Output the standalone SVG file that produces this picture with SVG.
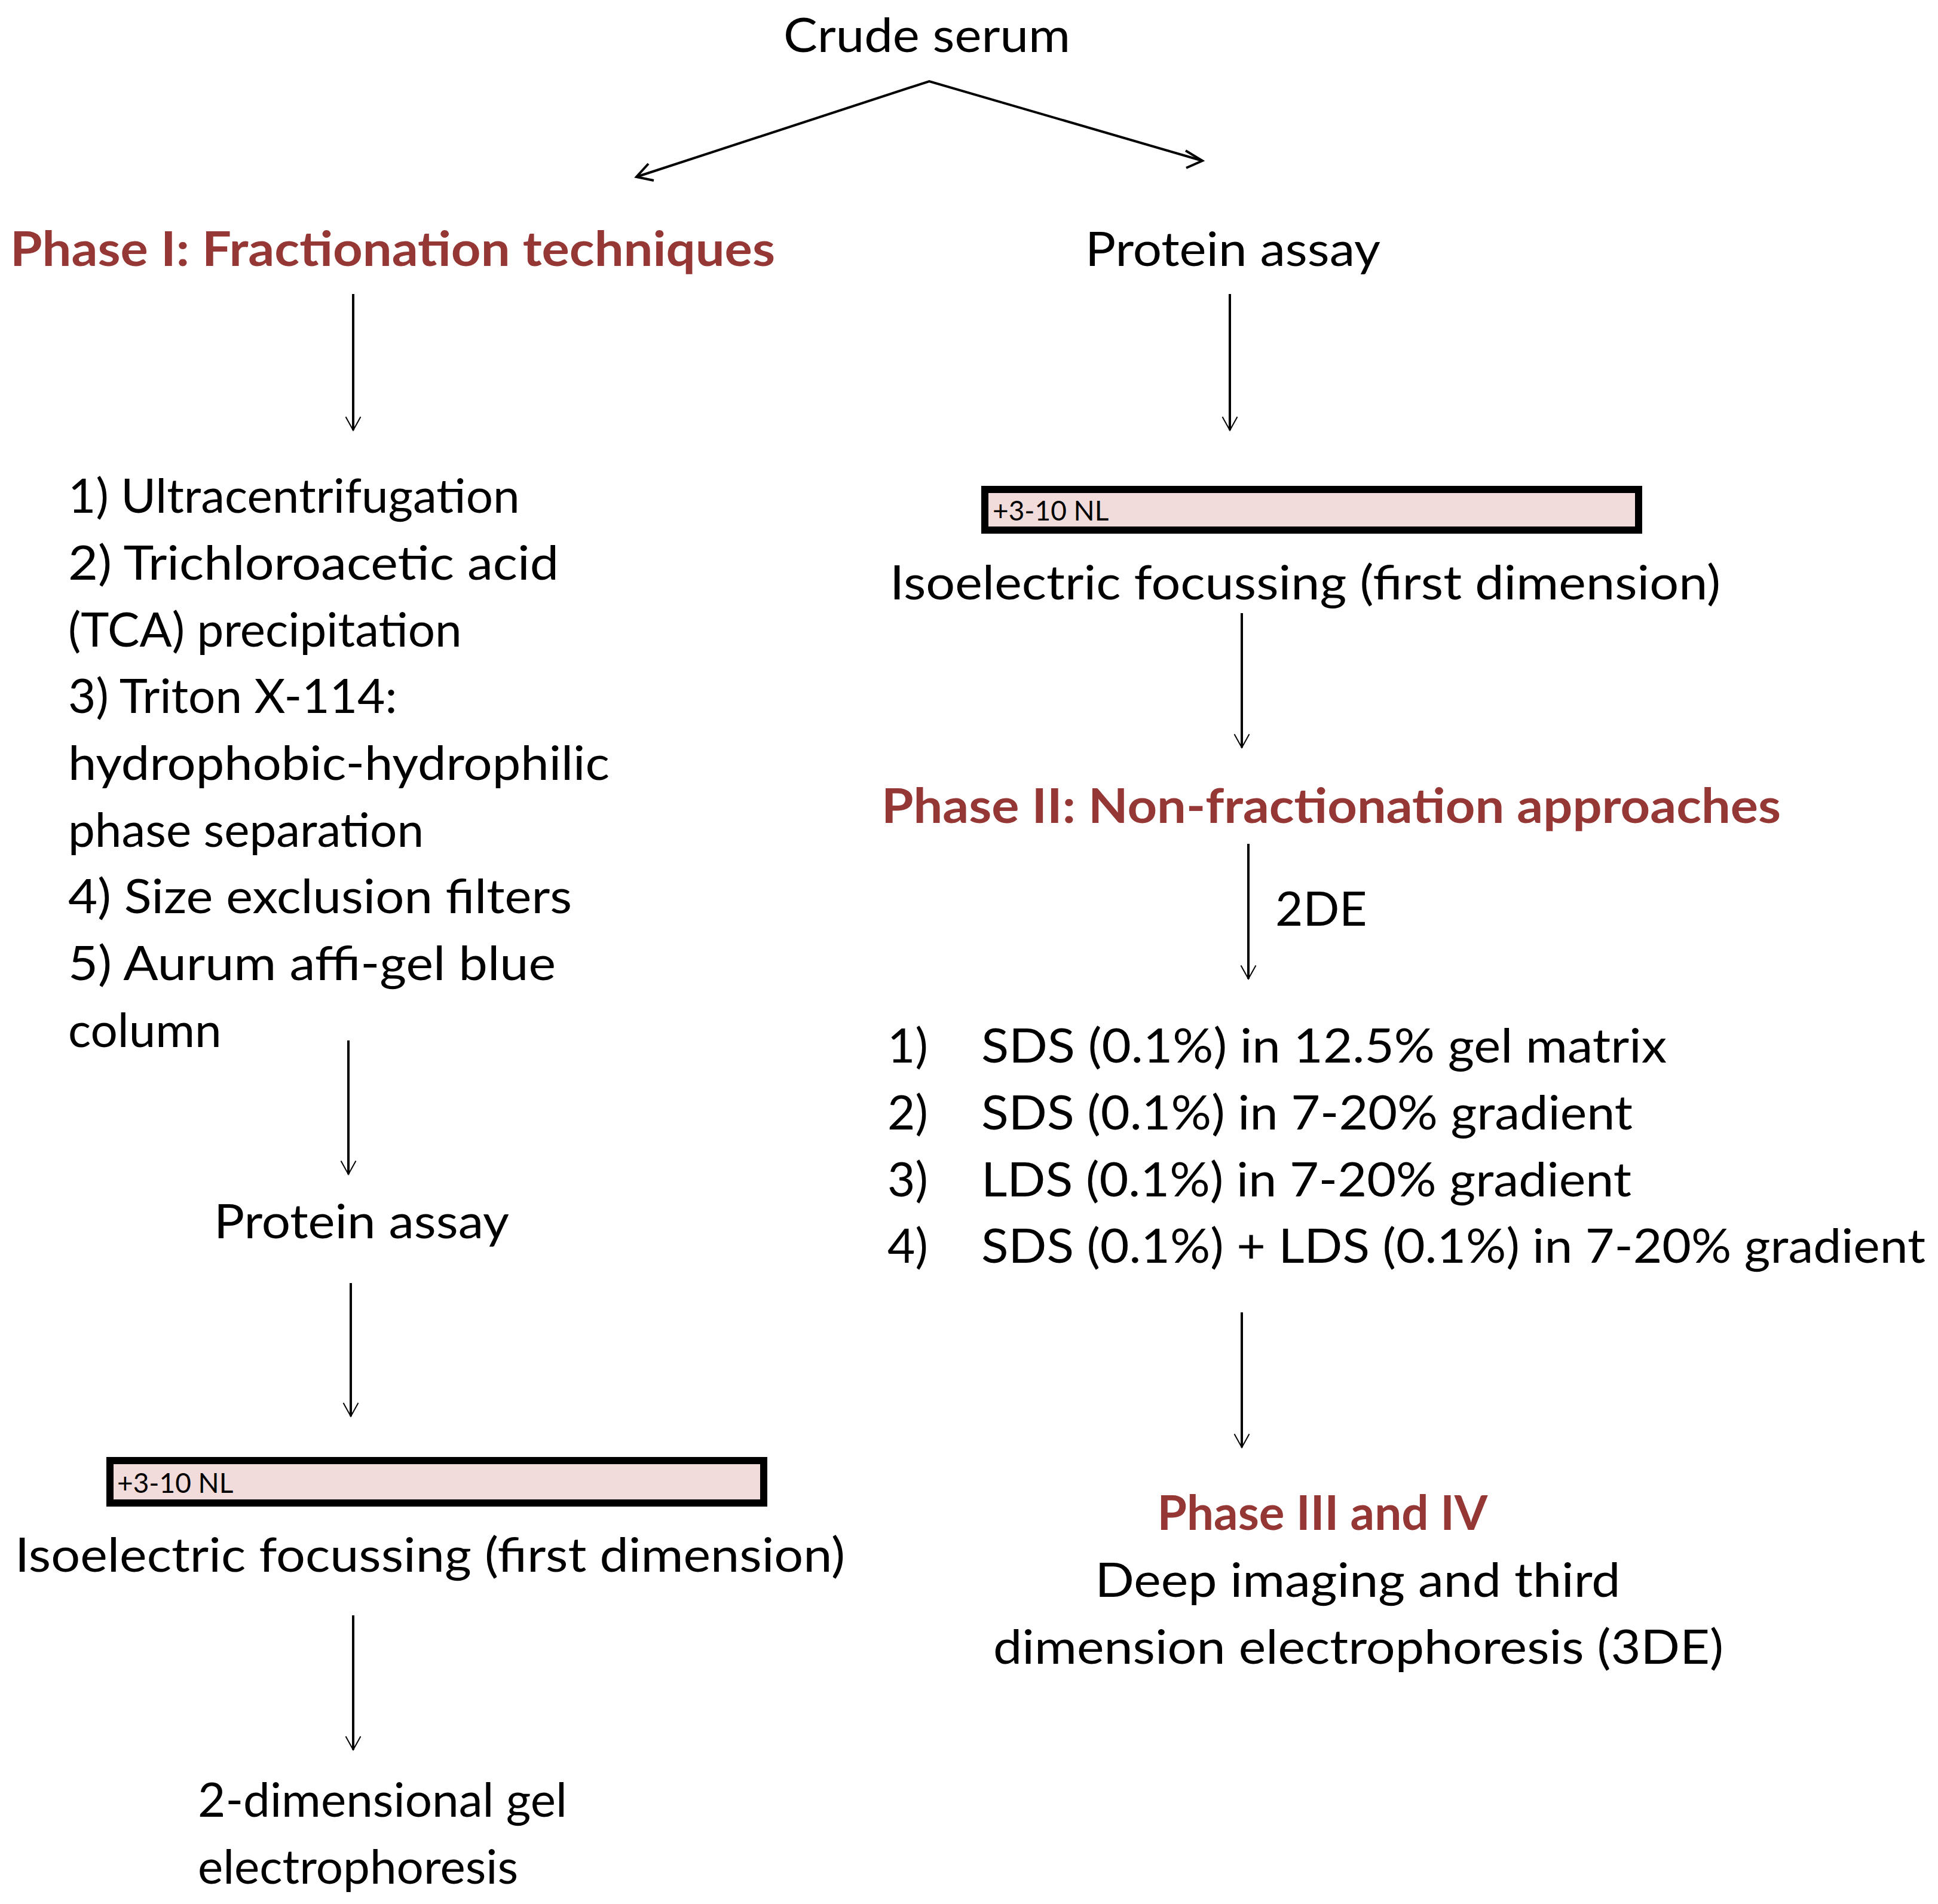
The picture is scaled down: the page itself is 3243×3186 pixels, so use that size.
<svg xmlns="http://www.w3.org/2000/svg" width="3243" height="3186" viewBox="0 0 3243 3186">
<style>
text{font-family:Lato,"Open Sans","Liberation Sans",sans-serif;font-size:80px;fill:#000}
.ph{font-weight:bold;fill:#953735}
.sm{font-size:46px}
.bar{fill:#f2dcdb;stroke:#000;stroke-width:12}
.c{stroke:#000;stroke-width:4;fill:none;marker-end:url(#a)}
</style>
<defs>
<marker id="a" viewBox="0 0 20 20" refX="18" refY="10" markerWidth="10" markerHeight="10" orient="auto" markerUnits="userSpaceOnUse" overflow="visible">
<path d="M0,0 L18,10 L0,20" transform="scale(2.5) translate(-10.8,-6)" fill="none" stroke="#000" stroke-width="1.6"/>
</marker>
</defs>
<rect width="3243" height="3186" fill="#fff"/>
<g id="connectors">
<polyline class="c" points="1065,296 1555,136 2012,269" style="marker-end:none"/>
<path d="M1085,274 L1065,296 L1094,302" fill="none" stroke="#000" stroke-width="4"/>
<path d="M1984,252 L2012,269 L1985,281" fill="none" stroke="#000" stroke-width="4"/>
<line class="c" x1="591" y1="492" x2="591" y2="720"/>
<line class="c" x1="2058" y1="492" x2="2058" y2="720"/>
<line class="c" x1="583" y1="1741" x2="583" y2="1965"/>
<line class="c" x1="587" y1="2147" x2="587" y2="2370"/>
<line class="c" x1="591" y1="2703" x2="591" y2="2928"/>
<line class="c" x1="2078" y1="1026" x2="2078" y2="1251"/>
<line class="c" x1="2089" y1="1412" x2="2089" y2="1638"/>
<line class="c" x1="2078" y1="2196" x2="2078" y2="2422"/>
</g>
<g id="crude"><text x="1311" y="87" textLength="480" lengthAdjust="spacingAndGlyphs">Crude serum</text></g>
<g id="phase1"><text class="ph" x="17" y="445" textLength="1280" lengthAdjust="spacingAndGlyphs">Phase I: Fractionation techniques</text></g>
<g id="assayR"><text x="1816" y="445" textLength="494" lengthAdjust="spacingAndGlyphs">Protein assay</text></g>
<g id="list1">
<text x="114" y="858">1) Ultracentrifugation</text>
<text x="114" y="970" textLength="821" lengthAdjust="spacingAndGlyphs">2) Trichloroacetic acid</text>
<text x="114" y="1082">(TCA) precipitation</text>
<text x="114" y="1193">3) Triton X-114:</text>
<text x="114" y="1305" textLength="906" lengthAdjust="spacingAndGlyphs">hydrophobic-hydrophilic</text>
<text x="114" y="1417">phase separation</text>
<text x="114" y="1528" textLength="843" lengthAdjust="spacingAndGlyphs">4) Size exclusion filters</text>
<text x="114" y="1640" textLength="816" lengthAdjust="spacingAndGlyphs">5) Aurum affi-gel blue</text>
<text x="114" y="1752">column</text>
</g>
<g id="assayL"><text x="358" y="2072" textLength="494" lengthAdjust="spacingAndGlyphs">Protein assay</text></g>
<g id="barL"><rect class="bar" x="184" y="2444" width="1094" height="71"/><text class="sm" x="196" y="2498">+3-10 NL</text></g>
<g id="iefL"><text x="25" y="2630" textLength="1389" lengthAdjust="spacingAndGlyphs">Isoelectric focussing (first dimension)</text></g>
<g id="twoDE"><text x="331" y="3040">2-dimensional gel</text><text x="331" y="3152">electrophoresis</text></g>
<g id="barR"><rect class="bar" x="1648" y="819" width="1094" height="68"/><text class="sm" x="1661" y="871">+3-10 NL</text></g>
<g id="iefR"><text x="1489" y="1003" textLength="1390" lengthAdjust="spacingAndGlyphs">Isoelectric focussing (first dimension)</text></g>
<g id="phase2"><text class="ph" x="1475" y="1377" textLength="1505" lengthAdjust="spacingAndGlyphs">Phase II: Non-fractionation approaches</text></g>
<g id="lbl2de"><text x="2134" y="1549">2DE</text></g>
<g id="list2">
<text x="1485" y="1778">1)</text><text x="1642" y="1778" textLength="1147" lengthAdjust="spacingAndGlyphs">SDS (0.1%) in 12.5% gel matrix</text>
<text x="1485" y="1890">2)</text><text x="1642" y="1890" textLength="1090" lengthAdjust="spacingAndGlyphs">SDS (0.1%) in 7-20% gradient</text>
<text x="1485" y="2002">3)</text><text x="1642" y="2002" textLength="1088" lengthAdjust="spacingAndGlyphs">LDS (0.1%) in 7-20% gradient</text>
<text x="1485" y="2113">4)</text><text x="1642" y="2113" textLength="1580" lengthAdjust="spacingAndGlyphs">SDS (0.1%) + LDS (0.1%) in 7-20% gradient</text>
</g>
<g id="phase3">
<text class="ph" x="2213" y="2560" text-anchor="middle">Phase III and IV</text>
<text x="2272" y="2672" text-anchor="middle" textLength="879" lengthAdjust="spacingAndGlyphs">Deep imaging and third</text>
<text x="2273" y="2784" text-anchor="middle" textLength="1222" lengthAdjust="spacingAndGlyphs">dimension electrophoresis (3DE)</text>
</g>
</svg>
